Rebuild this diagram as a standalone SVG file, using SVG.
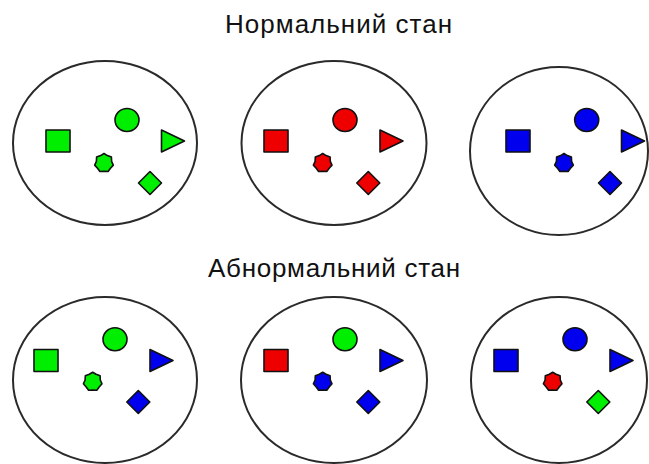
<svg xmlns="http://www.w3.org/2000/svg" xmlns:xlink="http://www.w3.org/1999/xlink" width="649" height="464" viewBox="0 0 649 464">
  <style>
    .title { font-family: "Liberation Sans", Arial, Helvetica, sans-serif; font-size: 26px; fill: #111; text-anchor: middle; }
    .set { fill: #fff; stroke: #2a2a2a; stroke-width: 2; }
    .g { fill: #00ee00; }
    .r { fill: #ee0000; }
    .b { fill: #0000ee; }
    .sh { stroke: #111; stroke-width: 1.6; stroke-linejoin: round; }
  </style>
  <defs>
    <rect id="sq" x="-12" y="-11" width="24" height="22"/>
    <ellipse id="ci" cx="0" cy="0" rx="12" ry="11.5"/>
    <polygon id="tr" points="-11.5,-11 11.5,0 -11.5,11"/>
    <polygon id="st" points="0,-9.5 3.4,-7.4 7.4,-5.9 7.6,-1.7 9.3,2.1 6.5,5.3 4.1,8.5 0,8.4 -4.1,8.5 -6.5,5.3 -9.3,2.1 -7.6,-1.7 -7.4,-5.9 -3.4,-7.4"/>
    <polygon id="di" points="0,-11.5 11.5,0 0,11.5 -11.5,0"/>
  </defs>

  <text class="title" x="338.5" y="33" textLength="227" lengthAdjust="spacing">Нормальний стан</text>
  <text class="title" x="334" y="277" textLength="252" lengthAdjust="spacing">Абнормальний стан</text>

  <!-- normal state, set 1: all green -->
  <g id="normal-1">
    <ellipse class="set" cx="105" cy="143" rx="92" ry="82"/>
    <use href="#sq" x="58" y="141" class="g sh"/>
    <use href="#ci" x="127" y="120" class="g sh"/>
    <use href="#tr" x="173" y="141" class="g sh"/>
    <use href="#st" x="104" y="163" class="g sh"/>
    <use href="#di" x="150" y="183" class="g sh"/>
  </g>

  <!-- normal state, set 2: all red -->
  <g id="normal-2">
    <ellipse class="set" cx="334" cy="143" rx="92.5" ry="82"/>
    <use href="#sq" x="276" y="141" class="r sh"/>
    <use href="#ci" x="345" y="120" class="r sh"/>
    <use href="#tr" x="391.5" y="141" class="r sh"/>
    <use href="#st" x="322.7" y="163" class="r sh"/>
    <use href="#di" x="368.3" y="183" class="r sh"/>
  </g>

  <!-- normal state, set 3: all blue -->
  <g id="normal-3">
    <ellipse class="set" cx="559" cy="151" rx="89" ry="84"/>
    <use href="#sq" x="518" y="141" class="b sh"/>
    <use href="#ci" x="586.7" y="120" class="b sh"/>
    <use href="#tr" x="633" y="141" class="b sh"/>
    <use href="#st" x="564" y="163" class="b sh"/>
    <use href="#di" x="610" y="183" class="b sh"/>
  </g>

  <!-- abnormal state, set 1 -->
  <g id="abnormal-1">
    <ellipse class="set" cx="105" cy="380" rx="92" ry="83"/>
    <use href="#sq" x="46" y="360.5" class="g sh"/>
    <use href="#ci" x="115" y="339.3" class="g sh"/>
    <use href="#tr" x="161.5" y="360.5" class="b sh"/>
    <use href="#st" x="92.7" y="381.7" class="g sh"/>
    <use href="#di" x="138.3" y="402" class="b sh"/>
  </g>

  <!-- abnormal state, set 2 -->
  <g id="abnormal-2">
    <ellipse class="set" cx="334" cy="380" rx="93" ry="83"/>
    <use href="#sq" x="276" y="360.5" class="r sh"/>
    <use href="#ci" x="345" y="339.3" class="g sh"/>
    <use href="#tr" x="391.5" y="360.5" class="b sh"/>
    <use href="#st" x="322.7" y="381.7" class="b sh"/>
    <use href="#di" x="368.3" y="402" class="b sh"/>
  </g>

  <!-- abnormal state, set 3 -->
  <g id="abnormal-3">
    <ellipse class="set" cx="559" cy="380" rx="88" ry="83"/>
    <use href="#sq" x="506" y="360.5" class="b sh"/>
    <use href="#ci" x="575" y="339.3" class="b sh"/>
    <use href="#tr" x="621.5" y="360.5" class="b sh"/>
    <use href="#st" x="552.7" y="381.7" class="r sh"/>
    <use href="#di" x="598.3" y="402" class="g sh"/>
  </g>

  <!-- no connectors in this figure -->
  <g id="connectors"/>
</svg>
